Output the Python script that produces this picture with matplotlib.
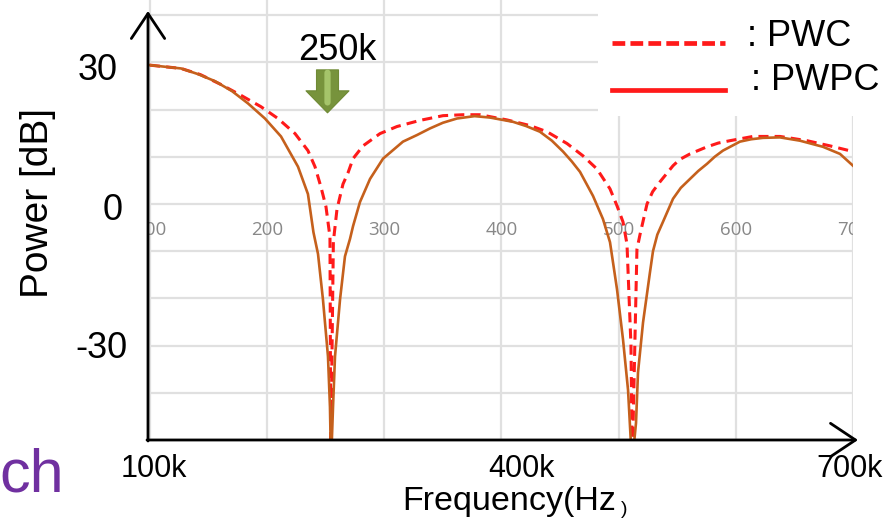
import numpy as np
import matplotlib
matplotlib.use("Agg")
import matplotlib.pyplot as plt
from matplotlib.lines import Line2D
from matplotlib.patches import Rectangle

plt.rcParams["font.family"] = ["Liberation Sans", "DejaVu Sans"]

W, H = 895, 521

# frequency in kHz, power in dB
pwpc_freq = [100, 126.5, 141.0, 155.5, 170.0, 183.6, 198.1, 211.8, 226.3, 234.8,
             239.5, 243.4, 247.6, 251.9, 253.6, 254.5, 256.2, 257.9, 262.2, 266.4,
             270.7, 273.3, 279.2, 287.8, 298.9, 315.9, 327.9, 339.0, 350.0, 362.0,
             377.0, 390.2, 409.8, 421.0, 432.8, 443.0, 452.5, 460.0, 467.0, 478.1,
             486.6, 492.6, 498.6, 503.7, 508.0, 511.4, 514.8, 516.5, 520.8, 526.7,
             529.3, 533.0, 537.8, 546.4, 553.0, 560.9, 568.0, 575.4, 582.0, 589.0,
             603.5, 613.0, 623.2, 637.7, 654.7, 674.4, 688.9, 700]
pwpc_db = [29.4, 28.7, 27.5, 26.0, 23.9, 21.3, 18.1, 14.3, 7.9, 2.1,
           -6.0, -10.6, -20.2, -32.3, -43.0, -55.0, -43.0, -32.3, -20.2, -11.1,
           -7.4, -4.7, 0.4, 5.3, 9.6, 13.2, 14.6, 16.0, 17.2, 18.1,
           18.6, 18.3, 17.4, 16.5, 15.3, 13.4, 11.1, 9.0, 6.8, 1.7,
           -3.2, -8.1, -18.1, -28.7, -39.4, -55.0, -46.4, -35.7, -25.1, -14.5,
           -10.0, -6.5, -3.8, 1.1, 3.4, 5.3, 7.0, 8.5, 10.0, 11.3,
           13.2, 13.7, 14.0, 14.1, 13.4, 12.1, 10.6, 8.1]

pwc_freq = [100, 126.5, 143.0, 160.6, 177.7, 194.7, 209.2, 223.8, 234.8, 240.8,
            245.9, 250.2, 253.6, 254.3, 255.4, 256.5, 259.6, 264.7, 269.0, 273.3,
            281.8, 296.3, 310.8, 330.4, 350.1, 367.1, 381.6, 404.7, 424.3, 438.8,
            455.9, 469.5, 481.5, 492.6, 498.6, 503.7, 507.1, 510.5, 511.6, 513.9,
            515.6, 518.2, 524.2, 529.0, 535.3, 546.4, 552.0, 560.9, 575.4, 585.0,
            595.0, 614.6, 637.7, 660.7, 680.4, 700]
pwc_db = [29.4, 28.7, 27.4, 25.3, 23.0, 20.6, 18.1, 14.9, 11.3, 7.9,
          3.6, -0.6, -7.0, -55.0, -30.0, -8.0, -1.1, 4.2, 6.6, 9.6,
          12.3, 14.9, 16.4, 17.7, 18.7, 18.9, 18.9, 17.8, 16.6, 15.3,
          12.8, 10.2, 7.4, 3.2, -0.4, -3.8, -8.5, -30.0, -55.0, -28.7,
          -9.6, -6.5, 0.0, 2.6, 4.7, 8.1, 9.4, 10.6, 12.1, 12.9,
          13.4, 14.3, 14.3, 13.4, 12.3, 11.1]

inner_ticks = [100, 200, 300, 400, 500, 600, 700]
y_grid = np.arange(-50, 41, 10)
y_labels = ["30", "0", "-30"]
x_labels = ["100k", "400k", "700k"]


def fx(p):
    return p / W


def fy(p):
    return 1 - p / H


fig = plt.figure(figsize=(W / 100, H / 100), dpi=100)
ax = fig.add_axes([fx(148), fy(440), fx(853) - fx(148), fy(0) - fy(440)])
ax.set_xlim(100 - 2 / 1.1717, 700)
ax.set_ylim(-50, 43.2)
for s in ax.spines.values():
    s.set_visible(False)
ax.set_xticks([])
ax.set_yticks([])

for x in inner_ticks:
    ax.axvline(x, color="#e0e0e0", lw=1.6, zorder=0)
for y in y_grid:
    ax.axhline(y, color="#e0e0e0", lw=1.6, zorder=0)

for x in inner_ticks:
    ax.text(x, -5.5, str(x), ha="center", va="center", fontsize=13.5,
            family="Open Sans", color="#888888", clip_on=True, zorder=1)

ax.plot(pwc_freq, pwc_db, color="#ff1a1a", lw=2.2, dashes=(3.3, 2.0), zorder=3)
ax.plot(pwpc_freq, pwpc_db, color="#c5601c", lw=1.9, zorder=4)

# green arrow and 250k label
ax.annotate("", xy=(251.5, 19.3), xytext=(251.5, 28.4),
            arrowprops=dict(arrowstyle="simple,head_length=1.1,head_width=2.15,tail_width=1.1",
                            fc="#77933c", ec="#6f8a35", lw=0.8,
                            shrinkA=0, shrinkB=0, mutation_scale=14.4))
ax.annotate("", xy=(251.5, 21.5), xytext=(251.5, 27.8),
            arrowprops=dict(arrowstyle="-", color="#a5c46a", lw=4.5,
                            shrinkA=0, shrinkB=0))
fig.text(fx(337), fy(50), "250k", ha="center", va="center", fontsize=26)

# white legend box
fig.add_artist(Rectangle((fx(598), fy(116)), 1 - fx(598), fy(0) - fy(116),
                         transform=fig.transFigure, fc="white", ec="none", zorder=5))
fig.add_artist(Line2D([fx(612), fx(725)], [fy(43), fy(43)], color="#ff1a1a", lw=3.4,
                      dashes=(2.7, 1.1), zorder=6))
fig.add_artist(Line2D([fx(612), fx(725)], [fy(90), fy(90)], color="#ff1a1a", lw=3.4,
                      zorder=6))
fig.text(fx(747), fy(37), ": PWC", ha="left", va="center", fontsize=26, zorder=7)
fig.text(fx(751), fy(81), ": PWPC", ha="left", va="center", fontsize=26, zorder=7)

# axes arrows
arrow = dict(arrowstyle="->,head_length=1.8,head_width=1.2", lw=2.0, color="black",
             shrinkA=0, shrinkB=0)
fig.add_artist(plt.Annotation("", xy=(fx(148), fy(11)), xytext=(fx(148), fy(441)),
                              xycoords="figure fraction", textcoords="figure fraction",
                              arrowprops=arrow))
fig.add_artist(plt.Annotation("", xy=(fx(858), fy(440)), xytext=(fx(147), fy(440)),
                              xycoords="figure fraction", textcoords="figure fraction",
                              arrowprops=arrow))

# outer labels
for lab, xr, yc in zip(y_labels, [118, 123, 128], [70, 210, 348]):
    fig.text(fx(xr), fy(yc), lab, ha="right", va="center", fontsize=26)
for lab, xc in zip(x_labels, [154, 521, 850]):
    fig.text(fx(xc), fy(469), lab, ha="center", va="center", fontsize=22)

fig.text(fx(38), fy(203), "Power [dB]", rotation=90, ha="center", va="center", fontsize=28)
fig.text(fx(402), fy(510), "Frequency(Hz", ha="left", va="baseline", fontsize=24.5)
fig.text(fx(621), fy(514), ")", ha="left", va="baseline", fontsize=14)
fig.text(fx(64), fy(492), "ch", ha="right", va="baseline", fontsize=44, color="#7030a0")

fig.savefig("out.png", dpi=100)
